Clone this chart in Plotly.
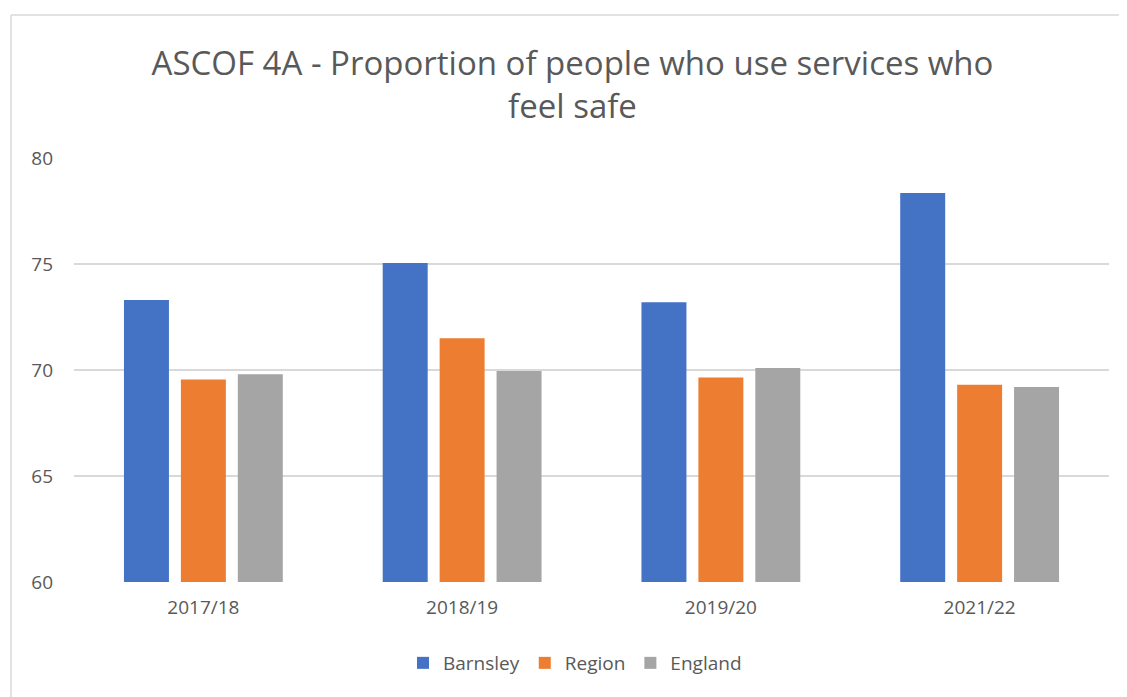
import plotly.graph_objects as go

categories = ["2017/18", "2018/19", "2019/20", "2021/22"]
barnsley = [73.3, 75.05, 73.2, 78.35]
region = [69.55, 71.5, 69.65, 69.3]
england = [69.8, 69.95, 70.1, 69.2]

# page has an 8px body margin, so the figure is drawn 8px in from top/left
W, H = 1119, 689
L, R, T, B = 66, 18, 150, 115
pw, ph = W - L - R, H - T - B

fig = go.Figure()
for name, vals, col in [("Barnsley", barnsley, "#4472C4"),
                        ("Region", region, "#ED7D31"),
                        ("England", england, "#A5A5A5")]:
    fig.add_trace(go.Bar(x=categories, y=vals, name=name, marker_color=col,
                         marker_line_width=0))

fig.update_layout(
    width=W, height=H,
    margin=dict(l=L, r=R, t=T, b=B),
    paper_bgcolor="white", plot_bgcolor="white",
    barmode="group", bargap=0.34, bargroupgap=0.21,
    title=dict(text="ASCOF 4A - Proportion of people who use services who<br>feel safe",
               x=564.5 / W, xanchor="center", y=1 - 67 / H, yanchor="middle",
               font=dict(family="Open Sans", size=33, color="#595959")),
    font=dict(family="Open Sans", color="#595959", size=19),
    yaxis=dict(range=[60, 80], dtick=5, showgrid=True, gridcolor="#d9d9d9",
               gridwidth=1.5, zeroline=False, ticks="", showline=False,
               tickfont=dict(size=19, color="#595959"), ticklabelstandoff=20),
    xaxis=dict(showline=False, ticks="", ticklabelstandoff=12,
               tickfont=dict(size=19, color="#595959")),
    legend=dict(orientation="h", x=(567 - L) / pw, xanchor="center",
                y=(ph - (655 - T)) / ph, yanchor="middle",
                font=dict(size=19, color="#595959"), itemwidth=30,
                traceorder="normal"),
    showlegend=True,
)
# chart border (top and left)
x0 = (3 - L) / pw
y1 = (ph - (7 - T)) / ph
fig.add_shape(type="line", xref="paper", yref="paper", x0=x0, x1=(W - L) / pw,
              y0=y1, y1=y1, line=dict(color="#d9d9d9", width=1.5))
fig.add_shape(type="line", xref="paper", yref="paper", x0=x0, x1=x0,
              y0=y1, y1=(ph - (H - T)) / ph, line=dict(color="#d9d9d9", width=1.5))

fig.write_html("out.html")
